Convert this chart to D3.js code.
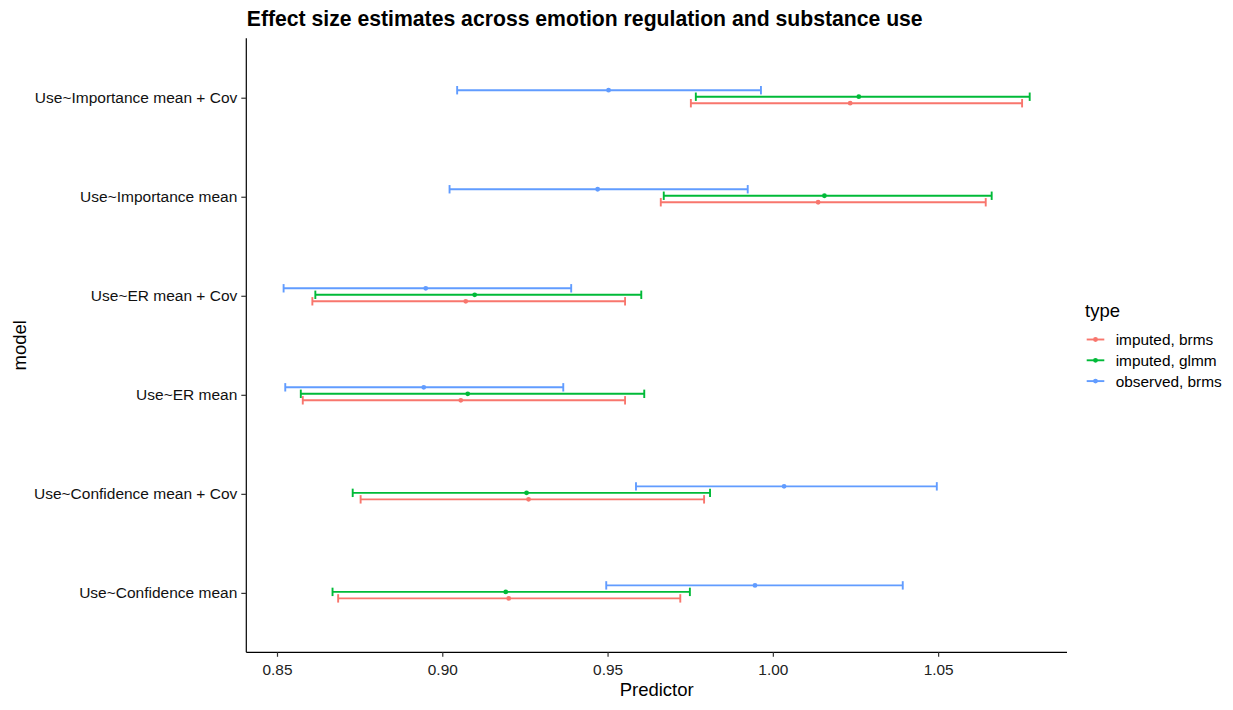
<!DOCTYPE html>
<html>
<head>
<meta charset="utf-8">
<script src="https://cdn.jsdelivr.net/npm/d3@7"></script>
<style>
  html, body { margin: 0; padding: 0; background: #ffffff; }
  svg { display: block; font-family: "Liberation Sans", Arial, sans-serif; }
</style>
</head>
<body>
<svg id="chart" width="1233" height="710"></svg>
<script>
// ---- data ----
const models = [
  "Use~Importance mean + Cov",
  "Use~Importance mean",
  "Use~ER mean + Cov",
  "Use~ER mean",
  "Use~Confidence mean + Cov",
  "Use~Confidence mean"
];
const types = ["imputed, brms", "imputed, glmm", "observed, brms"];
const typeColors = ["#F8766D", "#00BA38", "#619CFF"];

const imputedBrmsEst  = [1.0234, 1.0137, 0.9071, 0.9056, 0.9261, 0.9201];
const imputedBrmsLow  = [0.9752, 0.9661, 0.8607, 0.8578, 0.8753, 0.8685];
const imputedBrmsHigh = [1.0754, 1.0644, 0.9553, 0.9553, 0.9792, 0.9720];

const imputedGlmmEst  = [1.0260, 1.0156, 0.9098, 0.9077, 0.9255, 0.9192];
const imputedGlmmLow  = [0.9767, 0.9670, 0.8616, 0.8572, 0.8729, 0.8668];
const imputedGlmmHigh = [1.0777, 1.0662, 0.9602, 0.9611, 0.9810, 0.9749];

const observedBrmsEst  = [0.9503, 0.9470, 0.8950, 0.8944, 1.0034, 0.9946];
const observedBrmsLow  = [0.9045, 0.9022, 0.8520, 0.8525, 0.9586, 0.9496];
const observedBrmsHigh = [0.9964, 0.9924, 0.9390, 0.9366, 1.0496, 1.0393];

const xTicks = [0.85, 0.90, 0.95, 1.00, 1.05];
const xTickLabels = ["0.85", "0.90", "0.95", "1.00", "1.05"];

const titleText = "Effect size estimates across emotion regulation and substance use";
const xTitle = "Predictor";
const yTitle = "model";
const legendTitle = "type";

// ---- build records ----
const seriesEst  = [imputedBrmsEst, imputedGlmmEst, observedBrmsEst];
const seriesLow  = [imputedBrmsLow, imputedGlmmLow, observedBrmsLow];
const seriesHigh = [imputedBrmsHigh, imputedGlmmHigh, observedBrmsHigh];
const records = [];
types.forEach((t, ti) => {
  models.forEach((m, mi) => {
    records.push({ type: t, ti, model: m, est: seriesEst[ti][mi], lo: seriesLow[ti][mi], hi: seriesHigh[ti][mi] });
  });
});

// ---- layout ----
const panel = { left: 246.3, right: 1067, top: 38.3, bottom: 652.3 };
const svg = d3.select("#chart");

const allLo = d3.min(records, d => d.lo), allHi = d3.max(records, d => d.hi);
const pad = (allHi - allLo) * 0.05;
const x = d3.scaleLinear().domain([allLo - pad, allHi + pad]).range([panel.left, panel.right]);
const y = d3.scalePoint().domain(models).range([panel.top, panel.bottom]).padding(0.6);
const color = d3.scaleOrdinal().domain(types).range(typeColors);
// vertical dodge (px) for each type: red lowest, blue highest
const dodge = d3.scaleOrdinal().domain(types).range([5.5, -1, -7.5]);

// ---- title ----
svg.append("text")
  .attr("x", panel.left + 0.5).attr("y", 26)
  .attr("font-size", 21.2).attr("font-weight", "bold").attr("fill", "#000")
  .text(titleText);

// ---- axes ----
const xAxis = d3.axisBottom(x).tickValues(xTicks).tickFormat((d, i) => xTickLabels[i]).tickSize(4.5).tickSizeOuter(0);
const gx = svg.append("g").attr("transform", `translate(0,${panel.bottom})`).call(xAxis);
gx.select(".domain").attr("stroke", "#000").attr("stroke-width", 1.2)
  .attr("d", `M${panel.left},0H${panel.right}`);
gx.selectAll(".tick line").attr("stroke", "#333").attr("stroke-width", 1.2);
gx.selectAll(".tick text").attr("font-size", 15.4).attr("fill", "#222").attr("dy", null).attr("y", 23)
  .attr("font-family", "Liberation Sans, Arial, sans-serif");

const yAxis = d3.axisLeft(y).tickSize(5).tickSizeOuter(0).tickPadding(4);
const gy = svg.append("g").attr("transform", `translate(${panel.left},0)`).call(yAxis);
gy.select(".domain").attr("stroke", "#000").attr("stroke-width", 1.2)
  .attr("d", `M0,${panel.top}V${panel.bottom}`);
gy.selectAll(".tick line").attr("stroke", "#333").attr("stroke-width", 1.2);
gy.selectAll(".tick text").attr("font-size", 15.5).attr("fill", "#111")
  .attr("font-family", "Liberation Sans, Arial, sans-serif");

// axis titles
svg.append("text")
  .attr("x", (panel.left + panel.right) / 2).attr("y", 696)
  .attr("text-anchor", "middle").attr("font-size", 18.5).attr("fill", "#000")
  .text(xTitle);
svg.append("text")
  .attr("transform", `translate(26,${(panel.top + panel.bottom) / 2}) rotate(-90)`)
  .attr("text-anchor", "middle").attr("font-size", 18.5).attr("fill", "#000")
  .text(yTitle);

// ---- error bars ----
const capH = 4.2;
const sw = 1.9;
const gMarks = svg.append("g");
const grp = gMarks.selectAll("g.bar").data(records).join("g").attr("class", "bar");
grp.append("line")
  .attr("x1", d => x(d.lo)).attr("x2", d => x(d.hi))
  .attr("y1", d => y(d.model) + dodge(d.type)).attr("y2", d => y(d.model) + dodge(d.type))
  .attr("stroke", d => color(d.type)).attr("stroke-width", sw);
grp.append("line")
  .attr("x1", d => x(d.lo)).attr("x2", d => x(d.lo))
  .attr("y1", d => y(d.model) + dodge(d.type) - capH).attr("y2", d => y(d.model) + dodge(d.type) + capH)
  .attr("stroke", d => color(d.type)).attr("stroke-width", sw);
grp.append("line")
  .attr("x1", d => x(d.hi)).attr("x2", d => x(d.hi))
  .attr("y1", d => y(d.model) + dodge(d.type) - capH).attr("y2", d => y(d.model) + dodge(d.type) + capH)
  .attr("stroke", d => color(d.type)).attr("stroke-width", sw);
grp.append("circle")
  .attr("cx", d => x(d.est)).attr("cy", d => y(d.model) + dodge(d.type))
  .attr("r", 2.4).attr("fill", d => color(d.type));

// ---- legend ----
const lg = svg.append("g").attr("transform", "translate(1085,0)");
lg.append("text").attr("x", 0).attr("y", 317).attr("font-size", 18.5).attr("fill", "#000").text(legendTitle);
const items = lg.selectAll("g.item").data(types).join("g").attr("class", "item")
  .attr("transform", (d, i) => `translate(0,${339.5 + i * 20.8})`);
items.append("line").attr("x1", 1.7).attr("x2", 19.3).attr("y1", 0).attr("y2", 0)
  .attr("stroke", d => color(d)).attr("stroke-width", sw);
items.append("circle").attr("cx", 10.5).attr("cy", 0).attr("r", 2.4).attr("fill", d => color(d));
items.append("text").attr("x", 30.7).attr("y", 5.4).attr("font-size", 15.4).attr("fill", "#000").text(d => d);
</script>
</body>
</html>
